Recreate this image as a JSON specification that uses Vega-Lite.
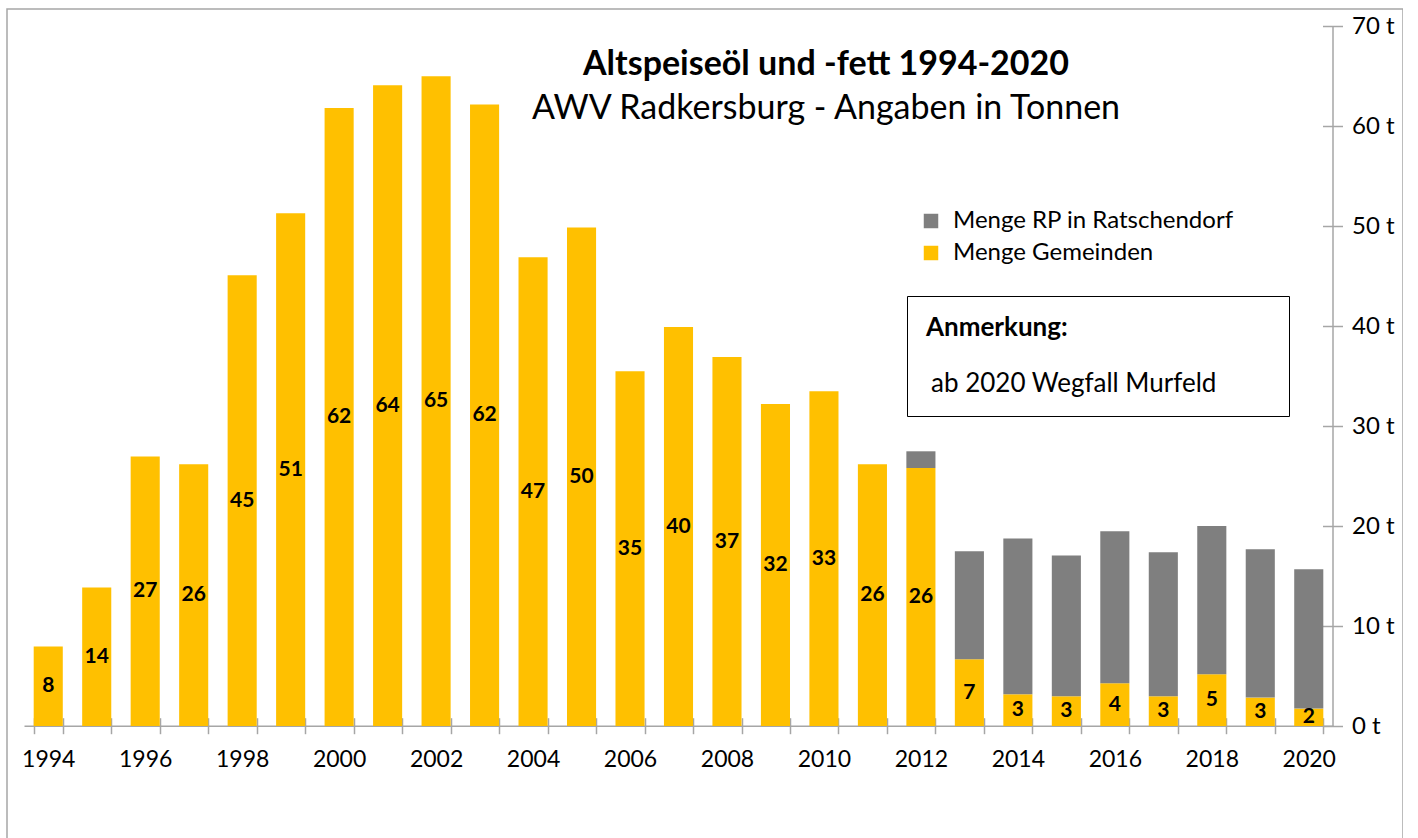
{
  "$schema": "https://vega.github.io/schema/vega-lite/v6.json",
  "width": 1396,
  "height": 830,
  "autosize": {"type": "none"},
  "padding": {"left": 7, "top": 9, "right": 0, "bottom": 0},
  "background": "white",
  "config": {
    "font": "Lato",
    "view": {"stroke": "#A6A6A6", "strokeWidth": 1.5}
  },
  "title": {
    "text": "Altspeiseöl und -fett 1994-2020",
    "subtitle": "AWV Radkersburg - Angaben in Tonnen",
    "anchor": "middle",
    "frame": "group",
    "dx": 121,
    "dy": 121,
    "font": "Lato",
    "fontSize": 34,
    "fontWeight": "bold",
    "color": "black",
    "subtitleFont": "Lato",
    "subtitleFontSize": 34,
    "subtitleColor": "black",
    "subtitlePadding": 10
  },
  "data": {
    "values": [
      {"year": 1994, "series": "Menge Gemeinden", "value": 7.94},
      {"year": 1995, "series": "Menge Gemeinden", "value": 13.84},
      {"year": 1996, "series": "Menge Gemeinden", "value": 26.94},
      {"year": 1997, "series": "Menge Gemeinden", "value": 26.17},
      {"year": 1998, "series": "Menge Gemeinden", "value": 45.07},
      {"year": 1999, "series": "Menge Gemeinden", "value": 51.27},
      {"year": 2000, "series": "Menge Gemeinden", "value": 61.8},
      {"year": 2001, "series": "Menge Gemeinden", "value": 64.07},
      {"year": 2002, "series": "Menge Gemeinden", "value": 64.97},
      {"year": 2003, "series": "Menge Gemeinden", "value": 62.14},
      {"year": 2004, "series": "Menge Gemeinden", "value": 46.87},
      {"year": 2005, "series": "Menge Gemeinden", "value": 49.84},
      {"year": 2006, "series": "Menge Gemeinden", "value": 35.47},
      {"year": 2007, "series": "Menge Gemeinden", "value": 39.9},
      {"year": 2008, "series": "Menge Gemeinden", "value": 36.9},
      {"year": 2009, "series": "Menge Gemeinden", "value": 32.2},
      {"year": 2010, "series": "Menge Gemeinden", "value": 33.47},
      {"year": 2011, "series": "Menge Gemeinden", "value": 26.17},
      {"year": 2012, "series": "Menge Gemeinden", "value": 25.8},
      {"year": 2013, "series": "Menge Gemeinden", "value": 6.67},
      {"year": 2014, "series": "Menge Gemeinden", "value": 3.17},
      {"year": 2015, "series": "Menge Gemeinden", "value": 2.97},
      {"year": 2016, "series": "Menge Gemeinden", "value": 4.27},
      {"year": 2017, "series": "Menge Gemeinden", "value": 2.97},
      {"year": 2018, "series": "Menge Gemeinden", "value": 5.17},
      {"year": 2019, "series": "Menge Gemeinden", "value": 2.84},
      {"year": 2020, "series": "Menge Gemeinden", "value": 1.74},
      {"year": 2012, "series": "Menge RP in Ratschendorf", "value": 1.67},
      {"year": 2013, "series": "Menge RP in Ratschendorf", "value": 10.8},
      {"year": 2014, "series": "Menge RP in Ratschendorf", "value": 15.57},
      {"year": 2015, "series": "Menge RP in Ratschendorf", "value": 14.07},
      {"year": 2016, "series": "Menge RP in Ratschendorf", "value": 15.2},
      {"year": 2017, "series": "Menge RP in Ratschendorf", "value": 14.4},
      {"year": 2018, "series": "Menge RP in Ratschendorf", "value": 14.83},
      {"year": 2019, "series": "Menge RP in Ratschendorf", "value": 14.83},
      {"year": 2020, "series": "Menge RP in Ratschendorf", "value": 13.93}
    ]
  },
  "resolve": {
    "scale": {"y": "independent"},
    "axis": {"x": "independent", "y": "independent"}
  },
  "layer": [
    {
      "mark": {"type": "bar"},
      "encoding": {
        "x": {
          "field": "year",
          "type": "ordinal",
          "scale": {"range": [17, 1326], "paddingInner": 0.4, "paddingOuter": 0.2},
          "axis": {
            "orient": "bottom",
            "offset": -113.3,
            "title": null,
            "labelAngle": 0,
            "tickBand": "extent",
            "domainColor": "#A6A6A6",
            "domainWidth": 1.5,
            "tickColor": "#A6A6A6",
            "tickWidth": 1.5,
            "tickSize": 8,
            "labelFont": "Lato",
            "labelFontSize": 23,
            "labelColor": "black",
            "labelPadding": 15,
            "labelExpr": "datum.value % 2 == 0 ? datum.label : ''"
          }
        },
        "y": {
          "field": "value",
          "type": "quantitative",
          "stack": "zero",
          "scale": {"domain": [0, 70], "range": [717, 17], "nice": false},
          "axis": {
            "orient": "right",
            "offset": -70.5,
            "title": null,
            "grid": false,
            "values": [0, 10, 20, 30, 40, 50, 60, 70],
            "labelExpr": "datum.value + ' t'",
            "domainColor": "#A6A6A6",
            "domainWidth": 1.5,
            "tickColor": "#A6A6A6",
            "tickWidth": 1.5,
            "tickSize": 10,
            "labelFont": "Lato",
            "labelFontSize": 24,
            "labelColor": "black",
            "labelPadding": 9
          }
        },
        "order": {"field": "series", "type": "nominal", "sort": "ascending"},
        "color": {
          "field": "series",
          "type": "nominal",
          "scale": {
            "domain": ["Menge RP in Ratschendorf", "Menge Gemeinden"],
            "range": ["#7F7F7F", "#FFC000"]
          },
          "legend": {
            "orient": "none",
            "legendX": 912,
            "legendY": 200,
            "title": null,
            "symbolType": "square",
            "symbolSize": 210,
            "symbolStrokeWidth": 0,
            "labelFont": "Lato",
            "labelFontSize": 24,
            "labelColor": "black",
            "labelOffset": 10,
            "labelLimit": 500,
            "rowPadding": 8,
            "padding": 0
          }
        }
      }
    },
    {
      "transform": [{"filter": "datum.series === 'Menge Gemeinden'"}],
      "mark": {"type": "text", "font": "Lato", "fontSize": 21, "fontWeight": "bold", "color": "black"},
      "encoding": {
        "x": {
          "field": "year",
          "type": "ordinal",
          "axis": {
            "orient": "bottom",
            "offset": -113.3,
            "title": null,
            "labels": false,
            "domain": false,
            "tickBand": "extent",
            "tickColor": "#A6A6A6",
            "tickWidth": 1.5,
            "tickSize": -8
          }
        },
        "y": {
          "field": "value",
          "type": "quantitative",
          "scale": {"domain": [0, 140], "range": [717, 17], "nice": false},
          "axis": {
            "orient": "right",
            "offset": -70.5,
            "title": null,
            "grid": false,
            "labels": false,
            "domain": false,
            "values": [0, 20, 40, 60, 80, 100, 120, 140],
            "tickColor": "#A6A6A6",
            "tickWidth": 1.5,
            "tickSize": -10
          }
        },
        "text": {"field": "value", "type": "quantitative", "format": ".0f"}
      }
    },
    {
      "data": {"values": [{"note": "ab 2020 Wegfall Murfeld"}]},
      "mark": {"type": "point", "opacity": 0},
      "encoding": {
        "shape": {
          "field": "note",
          "type": "nominal",
          "legend": {
            "orient": "none",
            "legendX": 900,
            "legendY": 287,
            "title": "Anmerkung:",
            "titleFont": "Lato",
            "titleFontSize": 26,
            "titleFontWeight": "bold",
            "titleColor": "black",
            "titlePadding": 30,
            "labelFont": "Lato",
            "labelFontSize": 26,
            "labelColor": "black",
            "labelOffset": -21,
            "labelLimit": 600,
            "labelExpr": "datum.label + '\u00a0\u00a0\u00a0\u00a0\u00a0\u00a0\u00a0\u00a0\u200b'",
            "symbolSize": 0,
            "symbolOpacity": 0,
            "padding": 19,
            "strokeColor": "black"
          }
        }
      }
    }
  ]
}
